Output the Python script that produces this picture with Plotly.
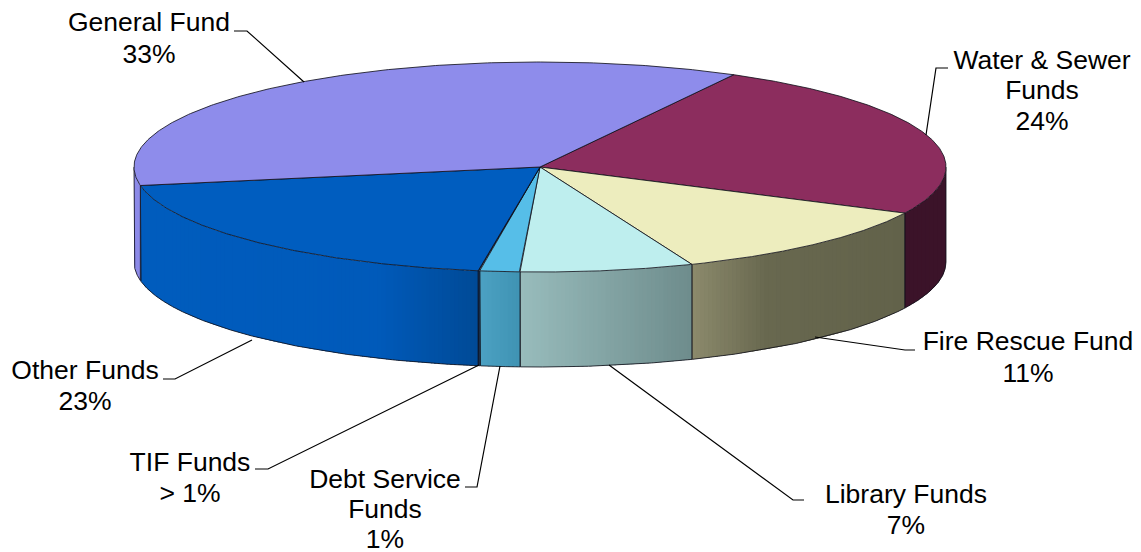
import numpy as np
import plotly.graph_objects as go

# Budget shares, in clockwise order from the back right of the disc
categories = ["Water & Sewer Funds", "Fire Rescue Fund", "Library Funds",
              "Debt Service Funds", "TIF Funds", "Other Funds", "General Fund"]
shares = [24, 11, 7, 1, 0.04, 23, 33]

label_lines = [["Water & Sewer", "Funds", "24%"], ["Fire Rescue Fund", "11%"],
               ["Library Funds", "7%"], ["Debt Service", "Funds", "1%"],
               ["TIF Funds", "> 1%"], ["Other Funds", "23%"], ["General Fund", "33%"]]

# Styling: top face colour and wall gradient (fraction across the wall, colour)
top_colors = ["#8C2D5E", "#EDEDBE", "#BEEEEE", "#56BEE8", "#004A96", "#005DBF", "#8E8CEB"]
wall_stops = [
    [(0, "#3B1329"), (1, "#3B1329")],
    [(0, "#8C8A6C"), (0.35, "#68684F"), (1, "#62624A")],
    [(0, "#98BCBC"), (1, "#6E8C8C")],
    [(0, "#4CA1C3"), (1, "#3F93B3")],
    [(0, "#004A96"), (1, "#004A96")],
    [(0, "#005CBD"), (0.7, "#005ABA"), (1, "#004A96")],
    [(0, "#8C8AE8"), (1, "#8C8AE8")],
]

# Disc geometry in canvas units
CX, CY, RX, RY, DEPTH = 540.0, 167.0, 406.0, 105.0, 95.0
START_DEG = 61.5
EDGE = "rgba(15,15,25,0.82)"

# Text placement: centre x, then centre y of each line
label_anchor = [(1042, [62, 92, 123]), (1028, [343, 375]), (906, [496, 527]),
                (385, [481, 511, 541]), (190, [464, 495]), (85, [372, 403]),
                (149, [24, 56])]
# Leader polylines: from the label to the rim of the disc
leader_x = [[948, 936, 926], [915, 905, 815], [804, 793, 609],
            [465, 477, 500], [255, 268, 479], [163, 175, 252], [234, 247, 304]]
leader_y = [[68, 68, 135], [350, 350, 337], [500, 500, 365],
            [487, 487, 366], [469, 469, 365], [379, 379, 340], [31, 31, 82]]


def foreshorten(theta):
    """Angular distortion of the tilted disc, degrees in and out.

    Low harmonics for the overall skew, plus a local stretch at the front
    of the disc, which is nearest the viewer.
    """
    r = np.radians(theta)
    skew = -2.267 - 0.671 * np.cos(r) + 5.586 * np.sin(r) \
        + 2.938 * np.cos(2 * r) - 0.53 * np.sin(2 * r)
    u = theta - 155.1
    return theta + skew + 0.665 * u * np.exp(-(u / 6.0) ** 2)


def rim(theta_cw):
    """Rim point for a clockwise angle measured from START_DEG."""
    t = np.radians(START_DEG - theta_cw)
    return CX + RX * np.cos(t), CY - RY * np.sin(t), np.sin(t)


def hex_mix(stops, f):
    xs = [s[0] for s in stops]
    rgb = [[int(s[1][i:i + 2], 16) for s in stops] for i in (1, 3, 5)]
    return "rgb(%d,%d,%d)" % tuple(round(np.interp(f, xs, c)) for c in rgb)


cum = np.concatenate([[0.0], np.cumsum(shares)]) / sum(shares) * 360.0
edges = [float(foreshorten(v)) for v in cum]
edges[0], edges[-1] = 0.0, 360.0

fig = go.Figure()


def add(x, y, **kw):
    fig.add_trace(go.Scatter(x=x, y=y, hoverinfo="skip", showlegend=False, **kw))


# Walls first, so the top face sits over their upper rim
for i in range(len(shares)):
    th = np.linspace(edges[i], edges[i + 1], 1441)
    x, y, s = rim(th)
    keep = s <= 0
    if keep.sum() < 2:
        continue
    x, y = x[keep], y[keep]
    order = np.argsort(x)
    x, y = x[order], y[order]
    lo, hi = x.min(), x.max()
    # Overlapping strips, painted left to right, give a seamless horizontal gradient
    n = max(int((hi - lo) / 4), 1)
    for k in range(n):
        a, b = lo + (hi - lo) * k / n, lo + (hi - lo) * (k + 1) / n
        sel = (x >= a) & (x <= b + 2.0)
        if sel.sum() < 2:
            continue
        xs, ys = x[sel], y[sel]
        col = hex_mix(wall_stops[i], (k + 0.5) / n)
        add(np.r_[xs, xs[::-1], xs[0]], np.r_[ys, ys[::-1] + DEPTH, ys[0]],
            mode="none", fill="toself", fillcolor=col)
    # Outline of the wall: both verticals and the lower rim
    add(np.r_[x[0], x[0], x, x[-1], x[-1]],
        np.r_[y[0], y[0] + DEPTH, y + DEPTH, y[-1] + DEPTH, y[-1]],
        mode="lines", line=dict(color=EDGE, width=1))

# Top face of each slice
for i in range(len(shares)):
    th = np.linspace(edges[i], edges[i + 1], 241)
    x, y, _ = rim(th)
    add(np.r_[CX, x, CX], np.r_[CY, y, CY], mode="lines", fill="toself",
        fillcolor=top_colors[i], line=dict(color=EDGE, width=1))

# Leader lines
for lx, ly in zip(leader_x, leader_y):
    add(lx, ly, mode="lines", line=dict(color="#000000", width=1.2))

# Labels, one text element per line for exact leading
for (ax, ys), lines in zip(label_anchor, label_lines):
    add([ax] * len(lines), ys, mode="text", text=lines, textposition="middle center",
        textfont=dict(family="Liberation Sans, Arial, sans-serif", size=26.5, color="#000000"))

fig.update_layout(
    width=1141, height=552, margin=dict(l=0, r=0, t=0, b=0),
    paper_bgcolor="white", plot_bgcolor="white", showlegend=False,
    xaxis=dict(range=[0, 1141], visible=False, fixedrange=True),
    yaxis=dict(range=[552, 0], visible=False, fixedrange=True),
)
fig.write_html("out.html", config={"displayModeBar": False})
